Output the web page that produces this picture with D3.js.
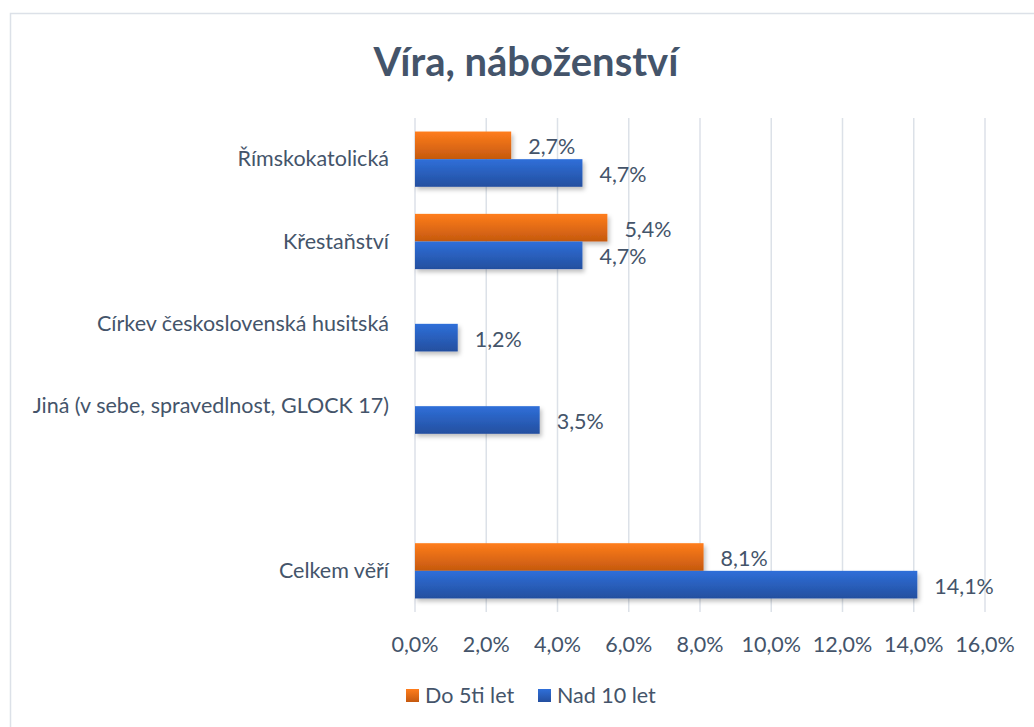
<!DOCTYPE html>
<html>
<head>
<meta charset="utf-8">
<script src="https://d3js.org/d3.v7.min.js"></script>
<style>
  body { margin: 0; background: #fff; }
  svg text { font-family: Lato, "Open Sans", sans-serif; fill: #44546a; }
</style>
</head>
<body>
<script>
  // data
  const categories = ["Římskokatolická", "Křestaňství", "Církev československá husitská",
    "Jiná (v sebe, spravedlnost, GLOCK 17)", "", "Celkem věří"];
  const seriesNames = ["Do 5ti let", "Nad 10 let"];
  const do5 = [2.7, 5.4, null, null, null, 8.1];
  const nad10 = [4.7, 4.7, 1.2, 3.5, null, 14.1];
  const xTicks = [0, 2, 4, 6, 8, 10, 12, 14, 16];

  const width = 1034, height = 727;
  const m = { left: 415, right: 49, top: 118, bottom: 115 };
  const fs = 21.5;

  const svg = d3.select("body").append("svg")
    .attr("width", width).attr("height", height);

  // gradients + shadow
  const defs = svg.append("defs");
  const grads = [["gOrange", "#ff7d1c", "#c5590f"], ["gBlue", "#2f6fd9", "#244f9f"]];
  grads.forEach(([id, c1, c2]) => {
    const g = defs.append("linearGradient").attr("id", id)
      .attr("x1", 0).attr("y1", 0).attr("x2", 0).attr("y2", 1);
    g.append("stop").attr("offset", "0%").attr("stop-color", c1);
    g.append("stop").attr("offset", "100%").attr("stop-color", c2);
  });
  defs.append("filter").attr("id", "shadow")
    .attr("x", "-10%").attr("y", "-20%").attr("width", "130%").attr("height", "160%")
    .append("feDropShadow").attr("dx", 2).attr("dy", 3).attr("stdDeviation", 2)
    .attr("flood-color", "#000").attr("flood-opacity", 0.25);

  // outer border
  svg.append("rect").attr("x", 10.5).attr("y", 13.5)
    .attr("width", width).attr("height", height)
    .attr("fill", "none").attr("stroke", "#dce1e8").attr("stroke-width", 1.5);

  const x = d3.scaleLinear().domain([0, 16]).range([m.left, width - m.right]);
  const y = d3.scaleBand().domain(d3.range(categories.length))
    .range([m.top, height - m.bottom]);
  const inner = d3.scaleBand().domain([0, 1]).range([0, y.bandwidth()]).paddingOuter(0.49).paddingInner(0);

  // gridlines
  svg.append("g").selectAll("line").data(xTicks).join("line")
    .attr("x1", d => x(d)).attr("x2", d => x(d))
    .attr("y1", m.top).attr("y2", height - m.bottom)
    .attr("stroke", "#dce1e8").attr("stroke-width", 1.5);

  // x tick labels
  svg.append("g").selectAll("text").data(xTicks).join("text")
    .attr("x", d => x(d)).attr("y", 652)
    .attr("text-anchor", "middle").attr("font-size", fs)
    .text(d => d.toFixed(1).replace(".", ",") + "%");

  // category labels
  svg.append("g").selectAll("text").data(categories).join("text")
    .attr("x", 389).attr("y", (d, i) => y(i) + y.bandwidth() / 2 + 7)
    .attr("text-anchor", "end").attr("font-size", fs)
    .text(d => d);

  const series = [do5, nad10];
  series.forEach((vals, s) => {
    const rows = vals.map((v, i) => ({ v, i })).filter(d => d.v !== null);
    const g = svg.append("g");
    g.selectAll("rect").data(rows).join("rect")
      .attr("x", x(0))
      .attr("y", d => y(d.i) + inner(s))
      .attr("width", d => x(d.v) - x(0))
      .attr("height", inner.bandwidth())
      .attr("fill", s === 0 ? "url(#gOrange)" : "url(#gBlue)")
      .attr("filter", "url(#shadow)");
    g.selectAll("text").data(rows).join("text")
      .attr("x", d => x(d.v) + 17)
      .attr("y", d => y(d.i) + inner(s) + inner.bandwidth() / 2 + 9)
      .attr("font-size", fs)
      .text(d => d.v.toFixed(1).replace(".", ",") + "%");
  });

  // title
  svg.append("text").attr("x", 526).attr("y", 76)
    .attr("text-anchor", "middle").attr("font-size", 40).attr("font-weight", "bold")
    .text("Víra, náboženství");

  // legend
  const legend = svg.append("g");
  const legX = [406, 538];
  seriesNames.forEach((name, s) => {
    legend.append("rect").attr("x", legX[s]).attr("y", 689)
      .attr("width", 13).attr("height", 13)
      .attr("fill", s === 0 ? "url(#gOrange)" : "url(#gBlue)");
    legend.append("text").attr("x", legX[s] + 19).attr("y", 703)
      .attr("font-size", fs).text(name);
  });
</script>
</body>
</html>
